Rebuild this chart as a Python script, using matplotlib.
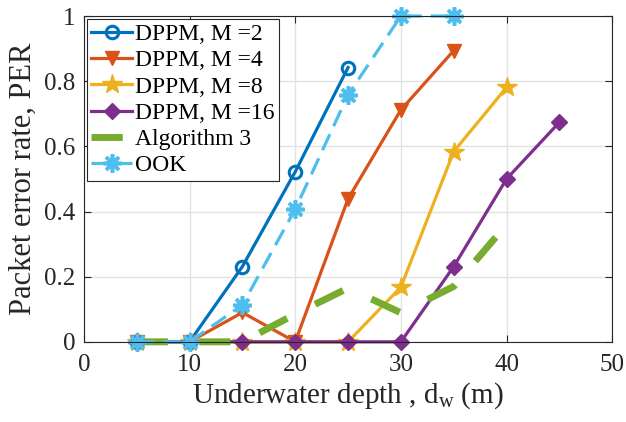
import matplotlib
matplotlib.use("Agg")
import matplotlib.pyplot as plt

plt.rcParams['font.family'] = ['Liberation Serif', 'DejaVu Serif']
plt.rcParams['mathtext.fontset'] = 'custom'
plt.rcParams['mathtext.rm'] = 'Liberation Serif'
plt.rcParams['mathtext.it'] = 'Liberation Serif'

# Underwater depth (m) and packet error rate for each scheme
depth_m2 = [5, 10, 15, 20, 25]
per_m2 = [0, 0, 0.231, 0.522, 0.842]

depth_m4 = [5, 10, 15, 20, 25, 30, 35]
per_m4 = [0, 0, 0.09, 0, 0.439, 0.712, 0.894]

depth_m8 = [5, 10, 15, 20, 25, 30, 35, 40]
per_m8 = [0, 0, 0, 0, 0, 0.168, 0.584, 0.781]

depth_m16 = [5, 10, 15, 20, 25, 30, 35, 40, 45]
per_m16 = [0, 0, 0, 0, 0, 0, 0.231, 0.5, 0.674]

depth_alg3 = [5, 10, 15, 20, 25, 30, 35, 40]
per_alg3 = [0, 0, 0, 0.085, 0.165, 0.089, 0.17, 0.36]

depth_ook = [5, 10, 15, 20, 25, 30, 35]
per_ook = [0, 0, 0.113, 0.407, 0.758, 1.0, 1.0]

xticks = [0, 10, 20, 30, 40, 50]
yticks = [0, 0.2, 0.4, 0.6, 0.8, 1]
ytick_labels = ['0', '0.2', '0.4', '0.6', '0.8', '1']

c_blue = '#0072BD'
c_orange = '#D95319'
c_yellow = '#EDB120'
c_purple = '#7E2F8E'
c_green = '#77AC30'
c_lblue = '#4DBEEE'

fig = plt.figure(figsize=(6.26, 4.22), dpi=100)
ax = fig.add_axes([0.134, 0.19, 0.844, 0.772])

common = dict(clip_on=False)
ax.plot(depth_m2, per_m2, '-', color=c_blue, lw=2.3, marker='o', ms=9,
        mfc='none', mec=c_blue, mew=2.2, label='DPPM, M =2', **common)
ax.plot(depth_m4, per_m4, '-', color=c_orange, lw=2.3, marker='v', ms=10,
        mfc=c_orange, mec=c_orange, label='DPPM, M =4', **common)
ax.plot(depth_m8, per_m8, '-', color=c_yellow, lw=2.3, marker='*', ms=15,
        mfc=c_yellow, mec=c_yellow, label='DPPM, M =8', **common)
ax.plot(depth_m16, per_m16, '-', color=c_purple, lw=2.3, marker='D', ms=8,
        mfc=c_purple, mec=c_purple, label='DPPM, M =16', **common)
ax.plot(depth_alg3, per_alg3, color=c_green, lw=5, dashes=(4.5, 4.5),
        dash_capstyle='butt', label='Algorithm 3', **common)
ax.plot(depth_ook, per_ook, color=c_lblue, lw=2.3, dashes=(5.5, 2.8),
        dash_capstyle='butt', marker=(8, 2, 0), ms=13, mew=2.6,
        mec=c_lblue, label='OOK', **common)

ax.set_xlim(0, 50)
ax.set_ylim(0, 1)
ax.set_xticks(xticks)
ax.set_yticks(yticks)
ax.set_yticklabels(ytick_labels)
ax.grid(True, color='#e2e2e2', lw=1)
ax.set_axisbelow(True)
ax.tick_params(direction='in', length=5, width=0.8, top=True, right=True,
               labelsize=18, colors='#262626')
ax.tick_params(axis='x', pad=9)
ax.tick_params(axis='y', pad=6)
for s in ax.spines.values():
    s.set_color('#262626')
    s.set_linewidth(0.8)

ax.set_xlabel('Underwater depth , d$_\\mathrm{w}$ (m)', fontsize=21,
              color='#262626', labelpad=3)
ax.set_ylabel('Packet error rate, PER', fontsize=22, color='#262626',
              labelpad=5)

leg = ax.legend(loc='upper left', fontsize=17, handlelength=1.7,
                handletextpad=0.15, labelspacing=0.2, borderpad=0.2,
                borderaxespad=0.12, fancybox=False, framealpha=1,
                edgecolor='#262626')
leg.get_frame().set_linewidth(0.8)

fig.savefig('out.png', dpi=100)
